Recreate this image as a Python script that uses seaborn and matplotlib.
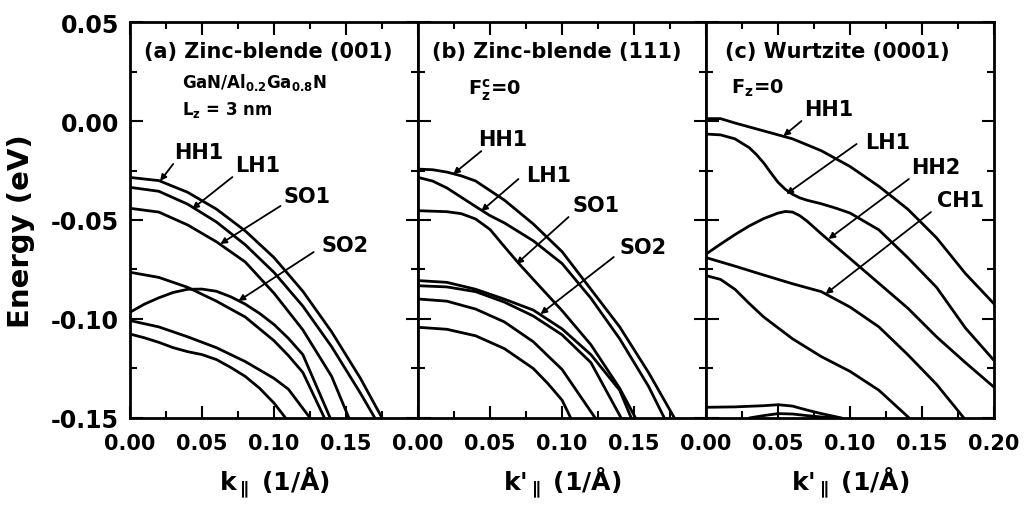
import matplotlib
matplotlib.use("Agg")
import matplotlib.pyplot as plt
import seaborn as sns
from matplotlib.ticker import FormatStrFormatter

# ---------------- data ----------------
# panel (a) Zinc-blende (001)
hh1_a_k = [0, 0.02, 0.04, 0.06, 0.08, 0.10, 0.12, 0.14, 0.16, 0.175]
hh1_a_e = [-0.0285, -0.0301, -0.0360, -0.0445, -0.0555, -0.0690, -0.0860, -0.1065, -0.1300, -0.150]
lh1_a_k = [0, 0.02, 0.04, 0.06, 0.08, 0.10, 0.12, 0.14, 0.16, 0.170]
lh1_a_e = [-0.0335, -0.0355, -0.0420, -0.0510, -0.0625, -0.0765, -0.0935, -0.1140, -0.1375, -0.150]
so1_a_k = [0, 0.02, 0.04, 0.06, 0.08, 0.10, 0.12, 0.14, 0.152]
so1_a_e = [-0.0441, -0.0460, -0.0525, -0.0610, -0.0712, -0.0870, -0.1055, -0.1290, -0.150]
so2_a_k = [0, 0.02, 0.04, 0.06, 0.08, 0.10, 0.11, 0.12, 0.135]
so2_a_e = [-0.0764, -0.0790, -0.0840, -0.0910, -0.0990, -0.1110, -0.1185, -0.1270, -0.150]
b5_a_k = [0, 0.01, 0.02, 0.03, 0.04, 0.05, 0.06, 0.07, 0.08, 0.09, 0.10, 0.11, 0.12, 0.139]
b5_a_e = [-0.0966, -0.0925, -0.0893, -0.0866, -0.0850, -0.0849, -0.0860, -0.0888, -0.0925, -0.0972, -0.1028, -0.1098, -0.1180, -0.150]
b6_a_k = [0, 0.02, 0.04, 0.06, 0.08, 0.10, 0.11, 0.125]
b6_a_e = [-0.1008, -0.1040, -0.1090, -0.1145, -0.1215, -0.1300, -0.1355, -0.150]
b7_a_k = [0, 0.01, 0.02, 0.03, 0.04, 0.05, 0.06, 0.07, 0.08, 0.09, 0.10, 0.108]
b7_a_e = [-0.1076, -0.1095, -0.1118, -0.1145, -0.1165, -0.1180, -0.1205, -0.1245, -0.1290, -0.1350, -0.1425, -0.150]

# panel (b) Zinc-blende (111)
hh1_b_k = [0, 0.01, 0.02, 0.03, 0.04, 0.06, 0.08, 0.10, 0.12, 0.14, 0.16, 0.178]
hh1_b_e = [-0.0243, -0.0246, -0.0258, -0.0277, -0.0303, -0.0400, -0.0520, -0.0660, -0.0850, -0.1040, -0.1270, -0.150]
lh1_b_k = [0, 0.01, 0.02, 0.03, 0.04, 0.05, 0.06, 0.08, 0.10, 0.12, 0.14, 0.16, 0.171]
lh1_b_e = [-0.0285, -0.0303, -0.0338, -0.0385, -0.0432, -0.0478, -0.0515, -0.0605, -0.0720, -0.0895, -0.1100, -0.1340, -0.150]
so1_b_k = [0, 0.02, 0.03, 0.04, 0.05, 0.06, 0.07, 0.08, 0.10, 0.12, 0.14, 0.151]
so1_b_e = [-0.0453, -0.0458, -0.0468, -0.0495, -0.0548, -0.0635, -0.0720, -0.0800, -0.0958, -0.1130, -0.1350, -0.150]
so2_b_k = [0, 0.02, 0.04, 0.06, 0.08, 0.10, 0.12, 0.14, 0.148]
so2_b_e = [-0.0806, -0.0815, -0.0850, -0.0900, -0.0955, -0.1050, -0.1180, -0.1360, -0.150]
b5_b_k = [0, 0.02, 0.04, 0.06, 0.08, 0.10, 0.12, 0.141]
b5_b_e = [-0.0832, -0.0838, -0.0862, -0.0915, -0.0985, -0.1080, -0.1220, -0.150]
b6_b_k = [0, 0.02, 0.04, 0.06, 0.08, 0.10, 0.123]
b6_b_e = [-0.0899, -0.0910, -0.0950, -0.1015, -0.1115, -0.1255, -0.150]
b7_b_k = [0, 0.02, 0.04, 0.06, 0.08, 0.09, 0.10, 0.106]
b7_b_e = [-0.1042, -0.1052, -0.1085, -0.1150, -0.1250, -0.1325, -0.1410, -0.150]

# panel (c) Wurtzite (0001)
hh1_c_k = [0, 0.01, 0.02, 0.04, 0.06, 0.08, 0.10, 0.12, 0.14, 0.16, 0.18, 0.20]
hh1_c_e = [0.0012, 0.0012, -0.0010, -0.0050, -0.0090, -0.0150, -0.0230, -0.0330, -0.0445, -0.0590, -0.0770, -0.0924]
lh1_c_k = [0, 0.01, 0.02, 0.03, 0.035, 0.04, 0.045, 0.05, 0.055, 0.06, 0.065, 0.07, 0.08,
           0.09, 0.10, 0.12, 0.14, 0.16, 0.18, 0.20]
lh1_c_e = [-0.0066, -0.0070, -0.0090, -0.0135, -0.0170, -0.0212, -0.0262, -0.0310, -0.0345,
           -0.0370, -0.0388, -0.0400, -0.0418, -0.0440, -0.0465, -0.0550, -0.0690, -0.0840, -0.1045, -0.1210]
hh2_c_k = [0, 0.01, 0.02, 0.03, 0.04, 0.05, 0.055, 0.06, 0.065, 0.07, 0.08, 0.10, 0.12, 0.14, 0.16, 0.18, 0.20]
hh2_c_e = [-0.0672, -0.0622, -0.0574, -0.0530, -0.0493, -0.0465, -0.0457, -0.0460, -0.0478, -0.0505, -0.0570,
           -0.0695, -0.0820, -0.0945, -0.1090, -0.1220, -0.1345]
ch1_c_k = [0, 0.02, 0.04, 0.06, 0.08, 0.10, 0.12, 0.14, 0.16, 0.179]
ch1_c_e = [-0.0690, -0.0733, -0.0778, -0.0822, -0.0862, -0.0940, -0.1040, -0.1180, -0.1330, -0.150]
b5_c_k = [0, 0.01, 0.02, 0.03, 0.04, 0.06, 0.08, 0.10, 0.12, 0.141]
b5_c_e = [-0.0781, -0.0800, -0.0850, -0.0922, -0.0990, -0.1100, -0.1190, -0.1265, -0.1360, -0.150]
b6_c_k = [0, 0.02, 0.04, 0.05, 0.06, 0.07, 0.08, 0.094]
b6_c_e = [-0.1446, -0.1444, -0.1438, -0.1433, -0.1440, -0.1460, -0.1478, -0.150]
b7_c_k = [0.03, 0.04, 0.05, 0.06, 0.07, 0.08, 0.09]
b7_c_e = [-0.1500, -0.1488, -0.1478, -0.1480, -0.1488, -0.1495, -0.1500]

panel_titles = ["(a) Zinc-blende (001)", "(b) Zinc-blende (111)", "(c) Wurtzite (0001)"]
x_labels = [r"k$_{\parallel}$ (1/Å)", r"k'$_{\parallel}$ (1/Å)", r"k'$_{\parallel}$ (1/Å)"]
y_label = "Energy (eV)"
y_ticks = [0.05, 0.00, -0.05, -0.10, -0.15]
x_ticks_ab = [0.00, 0.05, 0.10, 0.15]
x_ticks_c = [0.00, 0.05, 0.10, 0.15, 0.20]

# band labels: (text, label position, pointer start, pointer end) in data coords
labels_a = [("HH1", (0.048, -0.0157), (0.030, -0.0217), (0.0209, -0.0303)),
            ("LH1", (0.0885, -0.0222), (0.0711, -0.0283), (0.0432, -0.0444)),
            ("SO1", (0.1226, -0.0379), (0.1045, -0.0429), (0.0627, -0.0621)),
            ("SO2", (0.149, -0.0626), (0.1275, -0.0662), (0.0753, -0.0909))]
labels_b = [("HH1", (0.0585, -0.0091), (0.0439, -0.0152), (0.0244, -0.0268)),
            ("LH1", (0.0906, -0.0273), (0.0697, -0.0293), (0.0439, -0.0455)),
            ("SO1", (0.1233, -0.0424), (0.1045, -0.0485), (0.0683, -0.0722)),
            ("SO2", (0.1561, -0.0636), (0.1359, -0.0687), (0.085, -0.0975))]
labels_c = [("HH1", (0.085, 0.0061), (0.0662, 0.0), (0.0537, -0.0076)),
            ("LH1", (0.1261, -0.0106), (0.1045, -0.0116), (0.0557, -0.0369)),
            ("HH2", (0.1596, -0.0232), (0.1408, -0.0293), (0.085, -0.0596)),
            ("CH1", (0.177, -0.0399), (0.1561, -0.046), (0.0829, -0.0874))]

# ---------------- style ----------------
sns.set_style("ticks")
plt.rcParams["font.family"] = ["DejaVu Sans"]
plt.rcParams["font.weight"] = "bold"
plt.rcParams["axes.labelweight"] = "bold"
plt.rcParams["mathtext.fontset"] = "dejavusans"
plt.rcParams["mathtext.default"] = "bf"
plt.rcParams["axes.unicode_minus"] = False
for key in ["text.color", "axes.labelcolor", "axes.edgecolor", "xtick.color", "ytick.color"]:
    plt.rcParams[key] = "black"

fig, axes = plt.subplots(1, 3, figsize=(10.27, 5.06), dpi=100, sharey=True)
plt.subplots_adjust(left=0.1266, right=0.968, top=0.9545, bottom=0.172, wspace=0)

curves = [
    [(hh1_a_k, hh1_a_e), (lh1_a_k, lh1_a_e), (so1_a_k, so1_a_e), (so2_a_k, so2_a_e),
     (b5_a_k, b5_a_e), (b6_a_k, b6_a_e), (b7_a_k, b7_a_e)],
    [(hh1_b_k, hh1_b_e), (lh1_b_k, lh1_b_e), (so1_b_k, so1_b_e), (so2_b_k, so2_b_e),
     (b5_b_k, b5_b_e), (b6_b_k, b6_b_e), (b7_b_k, b7_b_e)],
    [(hh1_c_k, hh1_c_e), (lh1_c_k, lh1_c_e), (hh2_c_k, hh2_c_e), (ch1_c_k, ch1_c_e),
     (b5_c_k, b5_c_e), (b6_c_k, b6_c_e), (b7_c_k, b7_c_e)],
]
all_labels = [labels_a, labels_b, labels_c]

for i, ax in enumerate(axes):
    for kk, ee in curves[i]:
        sns.lineplot(x=kk, y=ee, ax=ax, color="black", linewidth=2.0,
                     estimator=None, sort=False, legend=False)
    ax.set_xlim(0, 0.2)
    ax.set_ylim(-0.15, 0.05)
    for s in ax.spines.values():
        s.set_linewidth(2.0)
        s.set_color("black")
        s.set_visible(True)
    ax.set_xticks(x_ticks_c if i == 2 else x_ticks_ab)
    ax.set_xticks([0.025, 0.075, 0.125, 0.175], minor=True)
    ax.set_yticks(y_ticks)
    ax.set_yticks([0.025, -0.025, -0.075, -0.125], minor=True)
    ax.xaxis.set_major_formatter(FormatStrFormatter("%.2f"))
    ax.yaxis.set_major_formatter(FormatStrFormatter("%.2f"))
    ax.tick_params(which="both", direction="in", top=True, right=True, width=1.5, color="black")
    ax.tick_params(which="major", length=9)
    ax.tick_params(which="minor", length=5)
    ax.tick_params(axis="x", which="major", labelsize=15, pad=11, labelcolor="black")
    ax.tick_params(axis="y", which="major", labelsize=17, pad=8, labelcolor="black")
    ax.set_xlabel(x_labels[i], fontsize=18, fontweight="bold", color="black")
    ax.xaxis.set_label_coords(0.5, -0.12)
    ax.text(0.05 if i < 2 else 0.066, 0.927, panel_titles[i], transform=ax.transAxes,
            fontsize=15, fontweight="bold", ha="left", va="center", color="black")
    for txt, lp, p0, p1 in all_labels[i]:
        ax.text(lp[0], lp[1], txt, fontsize=15, fontweight="bold", ha="center", va="center",
                color="black")
        ax.annotate("", xy=p1, xytext=p0,
                    arrowprops=dict(arrowstyle="-|>", color="black", lw=1.3,
                                    mutation_scale=9, shrinkA=0, shrinkB=0))

axes[0].set_ylabel(y_label, fontsize=21, fontweight="bold", color="black")
axes[0].yaxis.set_label_coords(-0.33, 0.475)
axes[0].text(0.181, 0.851, r"GaN/Al$_{0.2}$Ga$_{0.8}$N", transform=axes[0].transAxes,
             fontsize=12, fontweight="bold", ha="left", va="center", color="black")
axes[0].text(0.181, 0.78, r"L$_z$ = 3 nm", transform=axes[0].transAxes,
             fontsize=12, fontweight="bold", ha="left", va="center", color="black")
axes[1].text(0.174, 0.831, r"F$_z^c$=0", transform=axes[1].transAxes,
             fontsize=14, fontweight="bold", ha="left", va="center", color="black")
axes[2].text(0.087, 0.836, r"F$_z$=0", transform=axes[2].transAxes,
             fontsize=14, fontweight="bold", ha="left", va="center", color="black")

fig.savefig("out.png", dpi=100)
